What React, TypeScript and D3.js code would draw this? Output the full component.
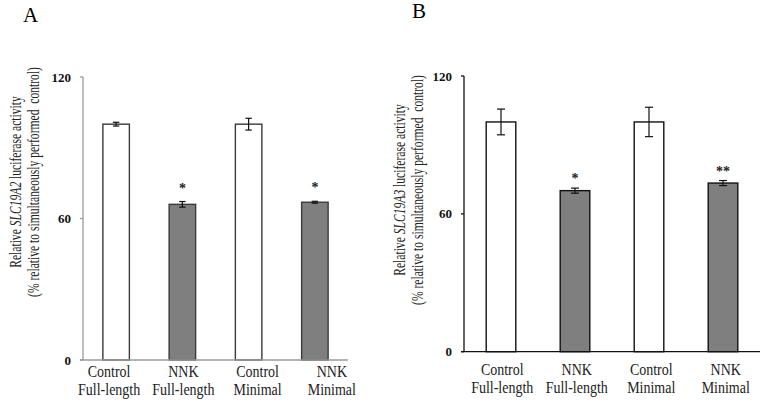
import React from "react";
import * as d3 from "d3";

const categories = ["Control|Full-length", "NNK|Full-length", "Control|Minimal", "NNK|Minimal"];
const yTicks = [0, 60, 120];

const valuesA = [100, 66.0, 100, 66.9];
const errorsA = [0.8, 1.2, 2.5, 0.4];
const sigA = ["", "*", "", "*"];

const valuesB = [100, 70.1, 100, 73.4];
const errorsB = [5.6, 1.1, 6.4, 1.1];
const sigB = ["", "*", "", "**"];

const fills = ["#ffffff", "#7f7f7f", "#ffffff", "#7f7f7f"];

const SERIF = "'Liberation Serif', 'Times New Roman', serif";

type PanelProps = {
  letter: string;
  letterX: number;
  letterY: number;
  gene: string;
  values: number[];
  errors: number[];
  sig: string[];
  xRange: [number, number];
  labelRange: [number, number];
  yRange: [number, number];
  axisColor: string;
  barStroke: string;
  capHalf: number;
  labelY1: number;
  titleX: number;
  titleCY: number;
  starGap: number;
};

function Panel(p: PanelProps) {
  const x = d3.scaleBand<string>().domain(categories).range(p.xRange).paddingInner(0.6).paddingOuter(0.3);
  const xl = d3.scaleBand<string>().domain(categories).range(p.labelRange).padding(0);
  const y = d3.scaleLinear().domain([0, 120]).range(p.yRange);
  const x0 = p.xRange[0];
  return (
    <g>
      <text x={p.letterX} y={p.letterY} fontFamily={SERIF} fontSize={21}>{p.letter}</text>
      {/* y title */}
      <g transform={`translate(${p.titleX},${p.titleCY}) rotate(-90) scale(1,1.4)`}>
        <text x={0} y={0} textAnchor="middle" fontFamily={SERIF} fontSize={11.6} fill="#222">
          Relative <tspan fontStyle="italic">{p.gene}</tspan> luciferase activity
        </text>
      </g>
      <g transform={`translate(${p.titleX + 18},${p.titleCY}) rotate(-90) scale(1,1.4)`}>
        <text x={0} y={0} textAnchor="middle" fontFamily={SERIF} fontSize={11.6} fill="#222" style={{ whiteSpace: "pre" }}>
          (% relative to simultaneously performed  control)
        </text>
      </g>
      {/* bars */}
      {categories.map((c, i) => (
        <rect key={c} x={x(c)} y={y(p.values[i])} width={x.bandwidth()} height={y(0) - y(p.values[i])}
          fill={fills[i]} stroke={p.barStroke} strokeWidth={1.4} />
      ))}
      {/* error bars */}
      {categories.map((c, i) => {
        const cx = (x(c) as number) + x.bandwidth() / 2;
        const hi = y(p.values[i] + p.errors[i]);
        const lo = y(p.values[i] - p.errors[i]);
        return (
          <g key={c} stroke="#111" strokeWidth={1.2}>
            <line x1={cx} x2={cx} y1={hi} y2={lo} />
            <line x1={cx - p.capHalf} x2={cx + p.capHalf} y1={hi} y2={hi} />
            <line x1={cx - p.capHalf} x2={cx + p.capHalf} y1={lo} y2={lo} />
          </g>
        );
      })}
      {/* significance */}
      {categories.map((c, i) =>
        p.sig[i] ? (
          <text key={c} x={(x(c) as number) + x.bandwidth() / 2} y={y(p.values[i] + p.errors[i]) - p.starGap + 7}
            textAnchor="middle" fontFamily={SERIF} fontWeight="bold" fontSize={14} fill="#222">
            {p.sig[i]}
          </text>
        ) : null
      )}
      {/* axes */}
      <line x1={x0} x2={x0} y1={y(120)} y2={y(0)} stroke={p.axisColor} strokeWidth={1.3} />
      <line x1={x0 - 3} x2={p.xRange[1]} y1={y(0)} y2={y(0)} stroke={p.axisColor} strokeWidth={1.3} />
      {yTicks.map((t) => (
        <g key={t}>
          <line x1={x0 - 3} x2={x0} y1={y(t)} y2={y(t)} stroke={p.axisColor} strokeWidth={1.3} />
          <text x={x0 - 12} y={y(t)} dy="0.35em" textAnchor="end" fontFamily={SERIF} fontWeight="bold" fontSize={13} fill="#111">
            {t}
          </text>
        </g>
      ))}
      {/* category labels */}
      {categories.map((c) => {
        const [l1, l2] = c.split("|");
        const cx = (xl(c) as number) + xl.bandwidth() / 2;
        return (
          <g key={c}>
            <g transform={`translate(${cx},${p.labelY1}) scale(1,1.25)`}>
              <text textAnchor="middle" fontFamily={SERIF} fontSize={14} fill="#222">{l1}</text>
            </g>
            <g transform={`translate(${cx},${p.labelY1 + 18}) scale(1,1.25)`}>
              <text textAnchor="middle" fontFamily={SERIF} fontSize={14} fill="#222">{l2}</text>
            </g>
          </g>
        );
      })}
    </g>
  );
}

export default function App() {
  return (
    <svg width={764} height={403} style={{ position: "absolute", left: 0, top: 0, background: "#fff" }}>
      <rect width={764} height={403} fill="#fff" />
      <Panel letter="A" letterX={23} letterY={22} gene="SLC19A2" values={valuesA} errors={errorsA} sig={sigA}
        xRange={[83, 348]} labelRange={[72, 369]} yRange={[360, 77]} axisColor="#9a9a9a" barStroke="#3a3a3a"
        capHalf={3.2} labelY1={377} titleX={21} titleCY={182} starGap={16} />
      <Panel letter="B" letterX={412} letterY={18} gene="SLC19A3" values={valuesB} errors={errorsB} sig={sigB}
        xRange={[464, 760]} labelRange={[465, 763]} yRange={[351.7, 76]} axisColor="#111" barStroke="#111"
        capHalf={4} labelY1={375} titleX={405} titleCY={190} starGap={12} />
    </svg>
  );
}
